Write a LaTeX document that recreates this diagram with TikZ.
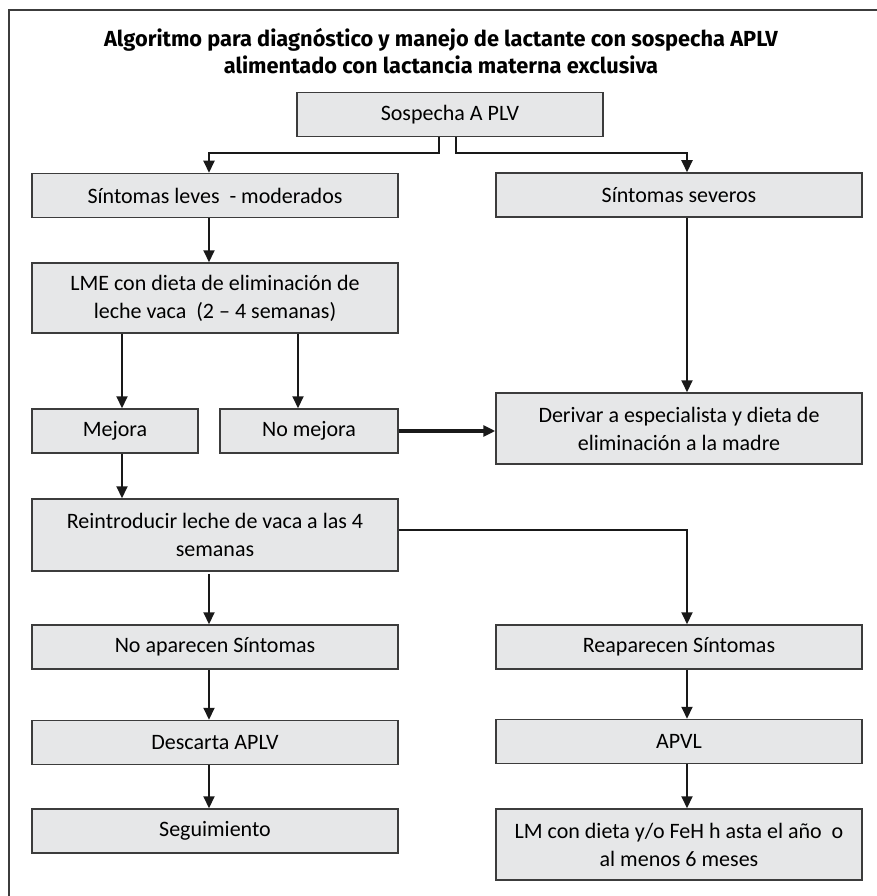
\documentclass[tikz,border=0pt]{standalone}
\usepackage{fontspec}
\setmainfont{Carlito}
\newfontfamily\titlefont{Fira Sans}
\usetikzlibrary{arrows.meta}

\definecolor{boxgray}{HTML}{E6E7E8}
\definecolor{edgegray}{HTML}{3C3C3C}

\begin{document}
\begin{tikzpicture}[x=1pt,y=-1pt,
  box/.style={rectangle,draw=edgegray,line width=1.5pt,fill=boxgray,minimum height=44pt,
    inner sep=0pt,align=center,font=\fontsize{22}{28}\selectfont},
  wide/.style={box,minimum width=366pt},
  arr/.style={draw=black!90,line width=2pt,-{Triangle[length=12pt,width=11pt]}}]
  \useasboundingbox (0,0) rectangle (877,896);
  \draw[edgegray,line width=2pt] (9,896) -- (9,10) -- (877,10);
  \node[font=\titlefont\fontsize{21.8}{27}\selectfont\bfseries,align=center] (title) at (441,51)
    {Algoritmo para diagnóstico y manejo de lactante con sospecha APLV\\
     alimentado con lactancia materna exclusiva};
  \node[box,minimum width=306pt] (sosp) at (450,114.5) {Sospecha A PLV};
  \node[wide] (leves) at (215,195.5) {Síntomas leves\ \ - moderados};
  \node[wide] (sev) at (679,195) {Síntomas severos};
  \node[wide,minimum height=70pt] (lme) at (215,298)
    {LME con dieta de eliminación de\\leche vaca\ \ (2 – 4 semanas)};
  \node[box,minimum width=166pt] (mej) at (115,431) {Mejora};
  \node[box,minimum width=178pt] (nomej) at (309,431) {No mejora};
  \node[wide,minimum height=71pt] (deriv) at (679,428.5)
    {Derivar a especialista y dieta de\\eliminación a la madre};
  \node[wide,minimum height=72pt] (reint) at (215,535)
    {Reintroducir leche de vaca a las 4\\semanas};
  \node[wide] (noap) at (215,647) {No aparecen Síntomas};
  \node[wide] (reap) at (679,647) {Reaparecen Síntomas};
  \node[wide] (desc) at (215,742.5) {Descarta APLV};
  \node[wide] (apvl) at (679,741.5) {APVL};
  \node[wide] (seg) at (215,831) {Seguimiento};
  \node[wide,minimum height=71pt] (lm) at (679,844.5)
    {LM con dieta y/o FeH h asta el año\ \ o\\al menos 6 meses};
  \draw[arr] ([xshift=-11pt]sosp.south) -- ++(0,16) -| ([xshift=-6pt]leves.north);
  \draw[arr] ([xshift=6pt]sosp.south) -- ++(0,16) -| ([xshift=8pt]sev.north);
  \draw[arr] ([xshift=-6pt]leves.south) -- ([xshift=-6pt]lme.north);
  \draw[arr] (lme.south -| 122,0) -- (mej.north -| 122,0);
  \draw[arr] (lme.south -| 298,0) -- (nomej.north -| 298,0);
  \draw[arr] ([xshift=8pt]sev.south) -- ([xshift=8pt]deriv.north);
  \draw[arr,line width=3.5pt] (nomej.east) -- (nomej.east -| deriv.west);
  \draw[arr] (mej.south -| 122,0) -- (reint.north -| 122,0);
  \draw[arr] ([xshift=-6pt,yshift=-2pt]reint.south) -- ([xshift=-6pt]noap.north);
  \draw[arr] ([yshift=5pt]reint.east) -| ([xshift=8pt]reap.north);
  \draw[arr] ([xshift=-6pt]noap.south) -- ([xshift=-6pt]desc.north);
  \draw[arr] ([xshift=8pt]reap.south) -- ([xshift=8pt]apvl.north);
  \draw[arr] ([xshift=-6pt]desc.south) -- ([xshift=-6pt]seg.north);
  \draw[arr] ([xshift=8pt]apvl.south) -- ([xshift=8pt]lm.north);
\end{tikzpicture}
\end{document}
